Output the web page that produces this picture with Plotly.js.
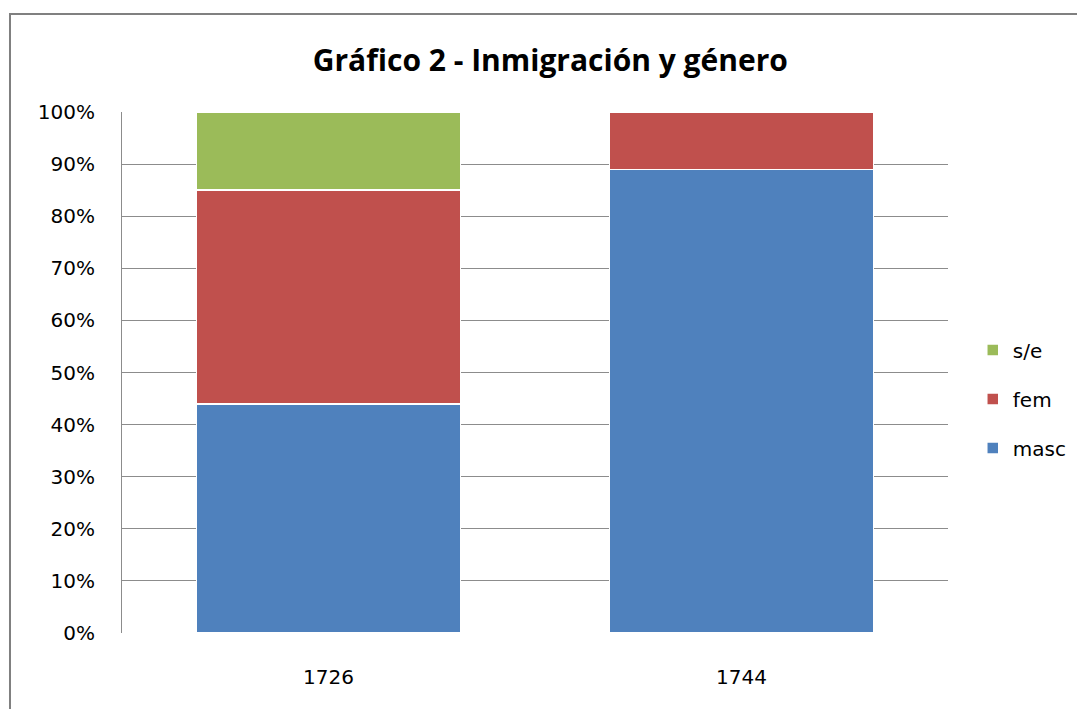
<!DOCTYPE html>
<html><head><meta charset="utf-8">
<script src="https://cdn.plot.ly/plotly-3.0.1.min.js"></script>
<style>html,body{margin:0;padding:0;background:#fff}#chart{width:1077px;height:709px}</style>
</head><body><div id="chart"></div>
<script>
const categories = ['1726', '1744'];
const masc = [44, 89];
const fem = [41, 11];
const se = [15, 0];
const tickVals = [0,10,20,30,40,50,60,70,80,90,100];
const tickText = ['0%','10%','20%','30%','40%','50%','60%','70%','80%','90%','100%'];

const font = 'DejaVu Sans, sans-serif';
function tr(name, y, color, g, rank){
  return {type:'bar', name:name, x:categories, y:y, legendgroup:g, legendrank:rank,
    marker:{color:color, line:{color:'#ffffff', width:1.5}}, width:0.64, hoverinfo:'skip'};
}
const data = [
  tr('masc', masc, '#4F81BD', 'a', 3),
  tr('fem', fem, '#C0504D', 'b', 2),
  tr('s/e', se, '#9BBB59', 'c', 1)
];
const layout = {
  width:1077, height:709, barmode:'stack',
  paper_bgcolor:'#fff', plot_bgcolor:'#fff',
  margin:{l:122, r:129, t:112, b:76, autoexpand:false},
  title:{text:'<b>Gráfico 2 - Inmigración y género</b>', x:0.511, xanchor:'center', y:0.915, yanchor:'middle',
    font:{family:'Open Sans, sans-serif', size:30, color:'#000'}},
  xaxis:{type:'category', showgrid:false, zeroline:false, showline:false, ticks:'',
    tickfont:{family:font, size:20, color:'#000'}, ticklabelstandoff:30},
  yaxis:{range:[0,100], tickvals:tickVals, ticktext:tickText, showgrid:true, gridcolor:'#8c8c8c', gridwidth:1,
    zeroline:false, showline:true, linecolor:'#8c8c8c', linewidth:1, ticks:'',
    tickfont:{family:font, size:20, color:'#000'}, ticklabelstandoff:22},
  legend:{x:1.03, xanchor:'left', y:0.449, yanchor:'middle', traceorder:'grouped', tracegroupgap:20,
    font:{family:font, size:20, color:'#000'}, itemwidth:30},
  shapes:[{type:'rect', xref:'paper', yref:'paper', x0:-0.1356, x1:1.5, y0:-0.2, y1:1.188,
    line:{color:'#808080', width:2}, fillcolor:'rgba(0,0,0,0)'}]
};
Plotly.newPlot('chart', data, layout, {displayModeBar:false, staticPlot:true});
</script></body></html>
